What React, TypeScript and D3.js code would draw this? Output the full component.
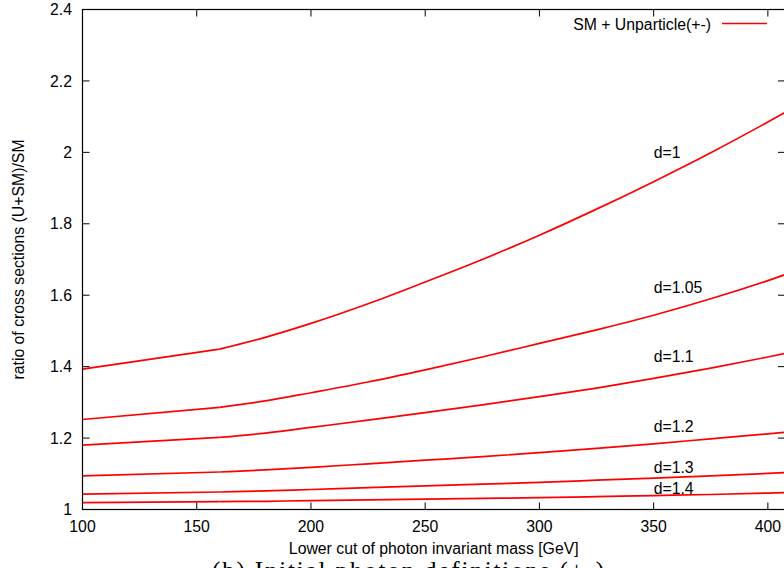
import React from 'react';
import * as d3 from 'd3';

// ---- data ----
const masses = [100, 160, 180, 200, 225, 250, 275, 300, 325, 350, 375, 400, 410];
const ratioD100 = [1.393, 1.449, 1.482, 1.521, 1.576, 1.637, 1.700, 1.768, 1.841, 1.918, 1.999, 2.085, 2.121];
const ratioD105 = [1.252, 1.286, 1.304, 1.327, 1.357, 1.391, 1.427, 1.465, 1.503, 1.544, 1.590, 1.641, 1.663];
const ratioD110 = [1.180, 1.202, 1.214, 1.230, 1.250, 1.271, 1.293, 1.316, 1.340, 1.367, 1.396, 1.427, 1.440];
const ratioD120 = [1.094, 1.105, 1.111, 1.118, 1.128, 1.138, 1.148, 1.159, 1.171, 1.184, 1.198, 1.212, 1.218];
const ratioD130 = [1.043, 1.049, 1.052, 1.056, 1.061, 1.066, 1.071, 1.076, 1.082, 1.088, 1.094, 1.101, 1.104];
const ratioD140 = [1.019, 1.022, 1.023, 1.025, 1.027, 1.029, 1.031, 1.033, 1.036, 1.039, 1.042, 1.046, 1.048];
const seriesValues = [ratioD100, ratioD105, ratioD110, ratioD120, ratioD130, ratioD140];
const seriesLabels = ['d=1', 'd=1.05', 'd=1.1', 'd=1.2', 'd=1.3', 'd=1.4'];
const labelMass = [350, 350, 350, 350, 350, 350];
const labelRatio = [2.0, 1.622, 1.43, 1.232, 1.117, 1.06];
const kinkMass = 160;

const xTicks = [100, 150, 200, 250, 300, 350, 400];
const yTicks = [1, 1.2, 1.4, 1.6, 1.8, 2, 2.2, 2.4];
const xDomain = [100, 407.5];
const yDomain = [1, 2.4];

const legendText = 'SM + Unparticle(+-)';
const xTitle = 'Lower cut of photon invariant mass [GeV]';
const yTitle = 'ratio of cross sections (U+SM)/SM';
const caption = '(b) Initial photon definitions (+-)';

const W = 784;
const H = 568;
const L = 82.5, R = 785, T = 9.5, B = 509.5;
const FONT = '"Liberation Sans", Arial, Helvetica, sans-serif';
const FS = 15.8;
const RED = '#ff0000';

export default function App() {
  const x = d3.scaleLinear().domain(xDomain).range([L, R]);
  const y = d3.scaleLinear().domain(yDomain).range([B, T]);

  const linear = d3.line<[number, number]>().x(d => x(d[0])).y(d => y(d[1])).curve(d3.curveLinear);
  const smooth = d3.line<[number, number]>().x(d => x(d[0])).y(d => y(d[1])).curve(d3.curveMonotoneX);

  const tick = 7;

  return (
    <svg width={W} height={H} style={{ position: 'absolute', left: 0, top: 0, background: '#fff' }}
      fontFamily={FONT}>
      <defs>
        <clipPath id="plotclip">
          <rect x={L} y={T} width={R - L} height={B - T} />
        </clipPath>
      </defs>
      <rect x={0} y={0} width={W} height={H} fill="#fff" />

      {/* curves */}
      <g clipPath="url(#plotclip)">
        {seriesValues.map((vals, si) => {
          const pts: [number, number][] = masses.map((m, i) => [m, vals[i]]);
          const k = masses.indexOf(kinkMass);
          const first = pts.slice(0, k + 1);
          const rest = pts.slice(k);
          return (
            <g key={si} fill="none" stroke={RED} strokeWidth={1.7} strokeLinejoin="round">
              <path d={linear(first) || ''} />
              <path d={smooth(rest) || ''} />
            </g>
          );
        })}
      </g>

      {/* frame */}
      <rect x={L} y={T} width={R - L} height={B - T} fill="none" stroke="#000" strokeWidth={1.2} />

      {/* x ticks */}
      {xTicks.map(t => (
        <g key={'x' + t}>
          <line x1={x(t)} x2={x(t)} y1={B} y2={B - tick} stroke="#000" strokeWidth={1} />
          <line x1={x(t)} x2={x(t)} y1={T} y2={T + tick} stroke="#000" strokeWidth={1} />
          <text x={x(t)} y={532} textAnchor="middle" fontSize={FS} fill="#000">{String(t)}</text>
        </g>
      ))}

      {/* y ticks */}
      {yTicks.map(t => (
        <g key={'y' + t}>
          <line x1={L} x2={L + tick} y1={y(t)} y2={y(t)} stroke="#000" strokeWidth={1} />
          <line x1={R} x2={R - tick} y1={y(t)} y2={y(t)} stroke="#000" strokeWidth={1} />
          <text x={72} y={y(t)} dy="0.36em" textAnchor="end" fontSize={FS} fill="#000">{String(t)}</text>
        </g>
      ))}

      {/* series labels */}
      {seriesLabels.map((s, i) => (
        <text key={s} x={x(labelMass[i])} y={y(labelRatio[i])} dy="0.36em" fontSize={FS} fill="#000">{s}</text>
      ))}

      {/* legend */}
      <text x={711} y={24} dy="0.36em" textAnchor="end" fontSize={FS} fill="#000">{legendText}</text>
      <line x1={722} x2={767} y1={23.5} y2={23.5} stroke={RED} strokeWidth={1.7} />

      {/* axis titles */}
      <text x={(L + R) / 2} y={554} textAnchor="middle" fontSize={FS} fill="#000">{xTitle}</text>
      <text transform={`translate(24,${(T + B) / 2}) rotate(-90)`} textAnchor="middle" fontSize={FS} fill="#000">{yTitle}</text>

      {/* caption (cut by the bottom edge) */}
      <text x={212} y={579} fontSize={25} fontFamily='"Liberation Serif", "Times New Roman", serif'
        textLength={392} lengthAdjust="spacing" fill="#000">{caption}</text>
    </svg>
  );
}
